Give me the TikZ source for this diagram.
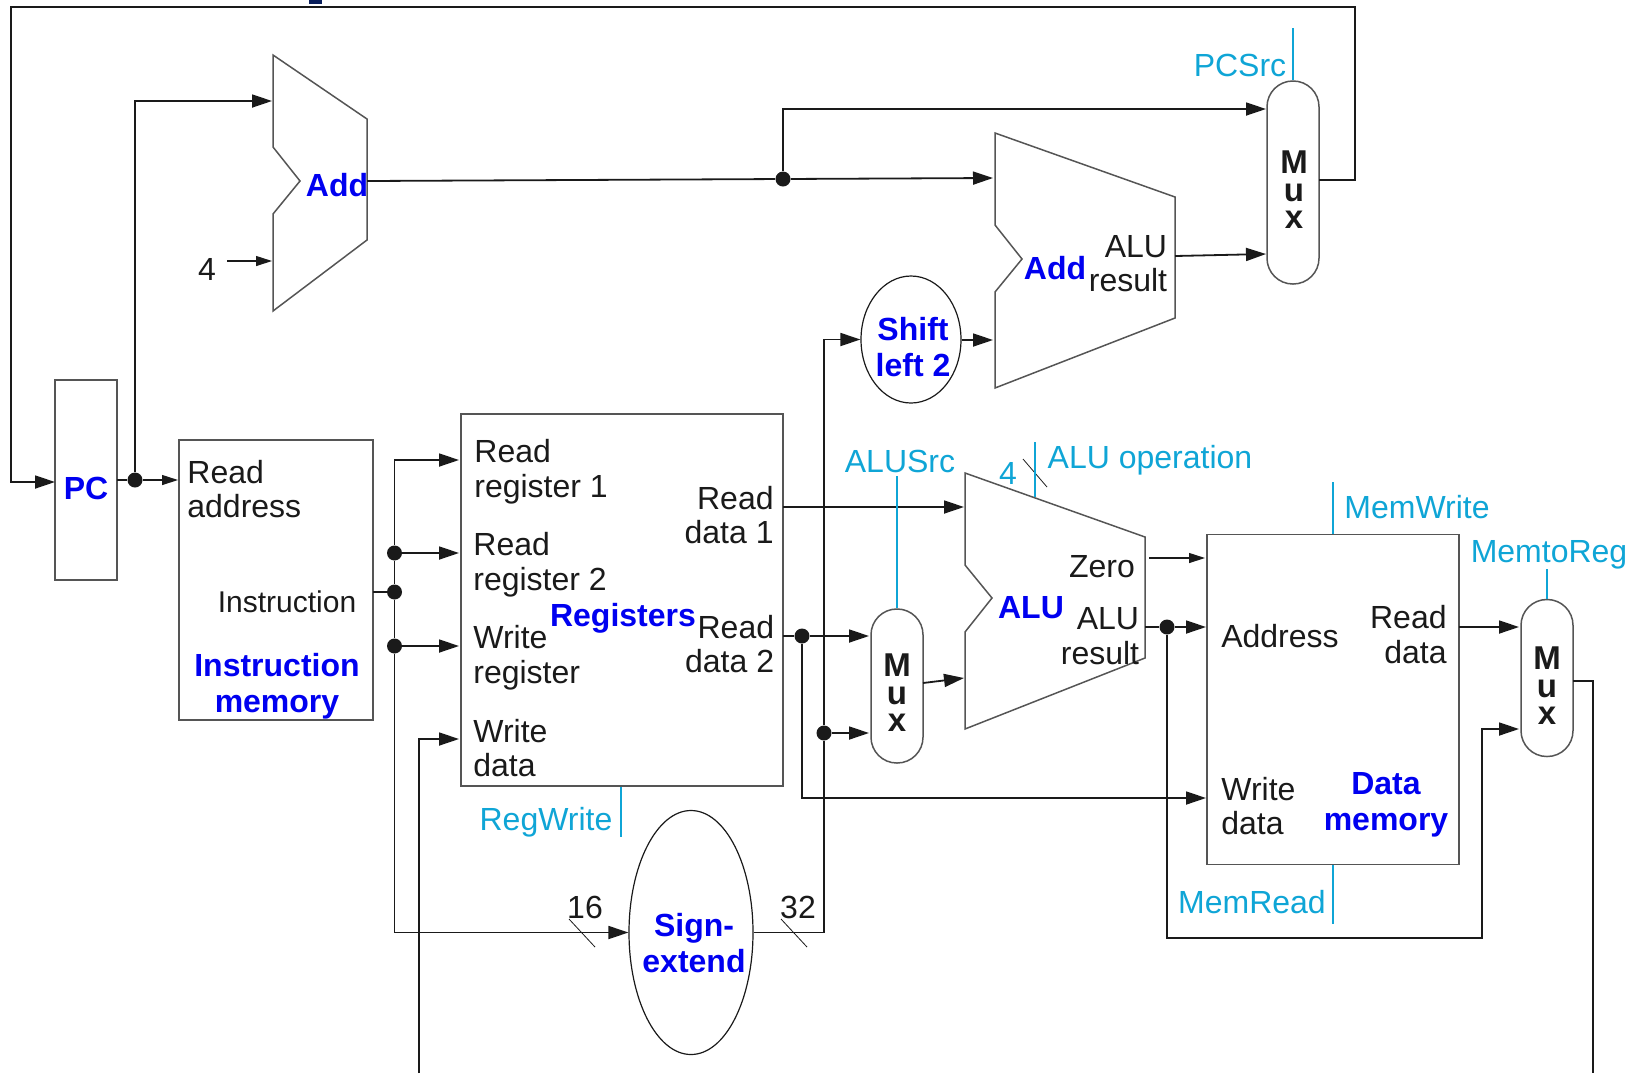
\documentclass[tikz,border=0pt]{standalone}
\usepackage{fontspec}
\setmainfont{Liberation Sans}
\usetikzlibrary{arrows.meta,shapes.geometric}
\definecolor{wirecol}{HTML}{1A1A1A}
\definecolor{boxcol}{HTML}{555555}
\definecolor{ctrlcol}{HTML}{0FA5D6}
\definecolor{namecol}{HTML}{0000F0}
\definecolor{stubcol}{HTML}{0A1F5C}
\begin{document}
\begin{tikzpicture}[x=0.5pt,y=0.5pt]
\tikzstyle{every node}+=[inner sep=0pt]
\tikzstyle{lbl}=[text=wirecol,font=\fontsize{16}{17.3}\selectfont,align=center]
\tikzstyle{namelbl}=[text=namecol,font=\fontsize{16}{18}\selectfont\bfseries,align=center]
\tikzstyle{ctrllbl}=[text=ctrlcol,font=\fontsize{16}{17}\selectfont]
\tikzstyle{muxlbl}=[text=wirecol,font=\fontsize{16.5}{13.8}\selectfont\bfseries,align=center]
\tikzstyle{blockbox}=[draw=boxcol,line width=0.75pt]
\tikzstyle{oval}=[ellipse,draw=wirecol,line width=0.6pt]
\tikzstyle{muxbox}=[draw=boxcol,line width=0.75pt,rounded corners=12.9pt,minimum width=26pt]
\tikzstyle{wire}=[draw=wirecol,line width=0.9pt,-{Triangle[length=10pt,width=6.5pt]}]
\tikzstyle{plainwire}=[draw=wirecol,line width=0.9pt]
\tikzstyle{thinwire}=[draw=wirecol,line width=0.55pt,-{Triangle[length=8pt,width=5pt]}]
\tikzstyle{ctrlwire}=[draw=ctrlcol,line width=0.7pt]
\tikzstyle{slash}=[draw=wirecol,line width=0.4pt]
\tikzstyle{dot}=[circle,fill=wirecol,minimum size=7.5pt]
\useasboundingbox (0,0) rectangle (1628,-1073);
\fill [stubcol] (309,0) rectangle (322,-4);
% blocks
\node [blockbox,minimum width=31pt,minimum height=100pt] (pc) at (86,-480) {};
\node [blockbox,minimum width=97pt,minimum height=140pt] (imem) at (276,-580) {};
\node [blockbox,minimum width=161pt,minimum height=186pt] (regs) at (622,-600) {};
\node [blockbox,minimum width=126pt,minimum height=165pt] (dmem) at (1333,-699.5) {};
\node [oval,minimum width=50pt,minimum height=63.5pt] (shift) at (911,-339.5) {};
\node [oval,minimum width=62pt,minimum height=122pt] (signext) at (691,-932.5) {};
\node [muxbox,minimum height=101.5pt] (mux1) at (1293,-182.5) {};
\node [muxbox,minimum height=77pt] (mux2) at (897,-686) {};
\node [muxbox,minimum height=78.5pt] (mux3) at (1547,-678) {};
\draw [blockbox] (273,-55) -- (367,-119) -- (367,-240) -- (273,-311) -- (273,-214) -- (300,-181) -- (273,-147) -- cycle;
\draw [blockbox] (995,-133) -- (1175,-197) -- (1175,-318) -- (995,-388) -- (995,-292) -- (1022,-259) -- (995,-225) -- cycle;
\draw [blockbox] (965,-473) -- (1145,-537) -- (1145,-658) -- (965,-729) -- (965,-632) -- (992,-598) -- (965,-565) -- cycle;
% ports
\coordinate (fbtopl) at (11,-7);
\coordinate (fbtopr) at (1355,-7);
\coordinate (fbout) at (1319,-180);
\coordinate (fbin) at (55,-482);
\coordinate (add1a) at (272,-101);
\coordinate (add1b) at (272,-261);
\coordinate (four1) at (227,-261);
\coordinate (add1out) at (367,-181);
\coordinate (add2a) at (993,-178);
\coordinate (add2b) at (993,-340);
\coordinate (add2out) at (1175,-256);
\coordinate (mux1a) at (1266,-109);
\coordinate (mux1b) at (1266,-254);
\coordinate (pcout) at (117,-480);
\coordinate (imemin) at (178,-480);
\coordinate (imemout) at (373,-592);
\coordinate (rr1) at (459,-460);
\coordinate (rr2) at (459,-553);
\coordinate (wr) at (459,-646);
\coordinate (wd) at (459,-739);
\coordinate (wdfree) at (419,-1073);
\coordinate (rd1) at (783,-507);
\coordinate (rd2) at (783,-636);
\coordinate (alua) at (964,-507);
\coordinate (alub) at (964,-678);
\coordinate (mux2a) at (869,-636);
\coordinate (mux2b) at (869,-733);
\coordinate (mux2out) at (923,-683);
\coordinate (zeroa) at (1149,-558);
\coordinate (zerob) at (1205,-558);
\coordinate (aluout) at (1145,-627);
\coordinate (dmaddr) at (1206,-627);
\coordinate (dmwd) at (1206,-798);
\coordinate (dmrd) at (1459,-627);
\coordinate (mux3a) at (1519,-627);
\coordinate (mux3b) at (1519,-729);
\coordinate (mux3out) at (1573,-681);
\coordinate (wbfree) at (1593,-1073);
\coordinate (fwdturn) at (1482,-938);
% junctions
\node [dot] (jpc) at (135,-480) {};
\node [dot] (jadd) at (783,-179) {};
\node [dot] (jrr2) at (394.5,-553) {};
\node [dot] (jinst) at (394.5,-592) {};
\node [dot] (jwr) at (394.5,-646) {};
\node [dot] (jrd2) at (802,-636) {};
\node [dot] (jext) at (824,-733) {};
\node [dot] (jalu) at (1167,-627) {};
% wires
\draw [wire] (fbout) -| (fbtopr) -- (fbtopl) |- (fbin);
\draw [plainwire] (pcout) -- (jpc);
\draw [thinwire] (jpc) -- (imemin);
\draw [wire] (jpc) |- (add1a);
\draw [thinwire] (four1) -- (add1b);
\draw [plainwire] (add1out) -- (jadd);
\draw [wire] (jadd) -- (add2a);
\draw [wire] (jadd) |- (mux1a);
\draw [wire] (add2out) -- (mux1b);
\draw [wire] (shift.east |- add2b) -- (add2b);
\draw [plainwire] (imemout) -- (jinst);
\draw [wire] (jrr2) |- (rr1);
\draw [wire] (jrr2) -- (rr2);
\draw [wire] (jwr) -- (wr);
\draw [plainwire] (jrr2) -- (jinst) -- (jwr);
\draw [wire] (jwr) |- (signext.west);
\draw [wire] (wdfree) |- (wd);
\draw [wire] (rd1) -- (alua);
\draw [plainwire] (rd2) -- (jrd2);
\draw [wire] (jrd2) -- (mux2a);
\draw [wire] (jrd2) |- (dmwd);
\draw [wire] (jext) -- (mux2b);
\draw [wire] (signext.east) -| (jext) |- (shift.west);
\draw [wire] (mux2out) -- (alub);
\draw [thinwire] (zeroa) -- (zerob);
\draw [plainwire] (aluout) -- (jalu);
\draw [wire] (jalu) -- (dmaddr);
\draw [wire] (jalu) |- (fwdturn) |- (mux3b);
\draw [wire] (dmrd) -- (mux3a);
\draw [plainwire] (mux3out) -| (wbfree);
% bus marks
\draw [slash] (569,-919) -- (595,-947);
\draw [slash] (781,-919) -- (807,-947);
\draw [slash] (1023,-459) -- (1047,-487);
% control lines
\draw [ctrlwire] (mux1.north) -- ++(0,52);
\draw [ctrlwire] (mux2.north) -- ++(0,132);
\draw [ctrlwire] (mux3.north) -- ++(0,30);
\draw [ctrlwire] (1035,-442) -- (1035,-497);
\draw [ctrlwire] (regs.south) ++(-1,0) -- ++(0,-50);
\draw [ctrlwire] (dmem.north) -- ++(0,52);
\draw [ctrlwire] (dmem.south) -- ++(0,-59);
% names
\node [namelbl] (pcname) at (86,-488) {PC};
\node [namelbl] (add1name) at (337,-185) {Add};
\node [namelbl] (add2name) at (1055,-268) {Add};
\node [namelbl] (aluname) at (1031,-608) {ALU};
\node [namelbl] (shiftname) at (913,-347) {Shift\\left 2};
\node [namelbl] (imemname) at (277,-686.5) {Instruction\\memory};
\node [namelbl] (regsname) at (623,-618) {Registers};
\node [namelbl] (signname) at (694,-943) {Sign-\\extend};
\node [namelbl] (dmemname) at (1386,-804.5) {Data\\memory};
\node [muxlbl] (mux1name) at (1294,-190) {M\\u\\x};
\node [muxlbl] (mux2name) at (897,-693) {M\\u\\x};
\node [muxlbl] (mux3name) at (1547,-686) {M\\u\\x};
% port labels
\node [lbl] (four) at (207,-269) {4};
\node [lbl,align=left,anchor=west] (imemra) at (187,-489) {Read\\address};
\node [lbl,font=\fontsize{15}{17}\selectfont] (imeminst) at (287,-602) {Instruction};
\node [lbl,align=left,anchor=west] (rrone) at (474,-472) {Read\\register 1};
\node [lbl,align=left,anchor=west] (rrtwo) at (473,-564.5) {Read\\register 2};
\node [lbl,align=left,anchor=west] (wrlbl) at (473,-657.5) {Write\\register};
\node [lbl,align=left,anchor=west] (wdlbl) at (473,-748) {Write\\data};
\node [lbl,align=right,anchor=east] (rdone) at (774,-515) {Read\\data 1};
\node [lbl,align=right,anchor=east] (rdtwo) at (774.5,-644) {Read\\data 2};
\node [lbl,align=right,anchor=east] (add2res) at (1167.5,-263.5) {ALU\\result};
\node [lbl] (zerolbl) at (1102,-567) {Zero};
\node [lbl,align=right,anchor=east] (alures) at (1139.5,-636) {ALU\\result};
\node [lbl] (addrlbl) at (1280,-636) {Address};
\node [lbl,align=right,anchor=east] (dmrdlbl) at (1447,-634.5) {Read\\data};
\node [lbl,align=left,anchor=west] (dmwdlbl) at (1221,-806) {Write\\data};
\node [lbl] (sixteen) at (585,-907) {16};
\node [lbl] (thirtytwo) at (798,-907) {32};
% control labels
\node [ctrllbl] (pcsrc) at (1240,-65) {PCSrc};
\node [ctrllbl] (alusrc) at (900,-461) {ALUSrc};
\node [ctrllbl] (fourctrl) at (1008,-473) {4};
\node [ctrllbl] (aluop) at (1150,-460) {ALU operation};
\node [ctrllbl] (regwrite) at (546,-822) {RegWrite};
\node [ctrllbl] (memwrite) at (1417,-507) {MemWrite};
\node [ctrllbl] (memread) at (1252,-902) {MemRead};
\node [ctrllbl] (memtoreg) at (1549,-555) {MemtoReg};
\end{tikzpicture}
\end{document}
